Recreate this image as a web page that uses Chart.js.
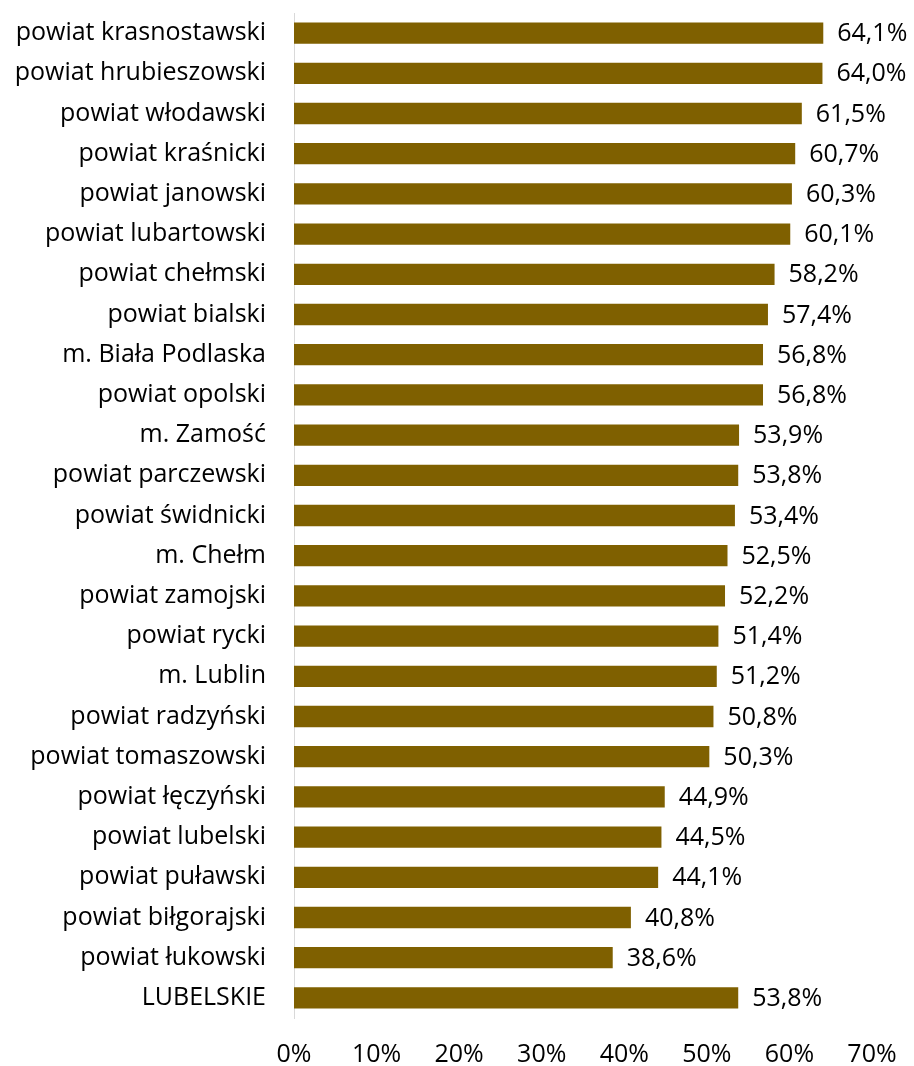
<!DOCTYPE html>
<html>
<head>
<meta charset="utf-8">
<script src="https://cdn.jsdelivr.net/npm/chart.js@4/dist/chart.umd.min.js"></script>
<style>
  html, body { margin: 0; padding: 0; background: #fff; }
  #wrap { width: 914px; height: 1066px; position: relative; }
</style>
</head>
<body>
<div id="wrap"><canvas id="chart"></canvas></div>
<script>
// Data
const categories = [
  'powiat krasnostawski', 'powiat hrubieszowski', 'powiat włodawski', 'powiat kraśnicki',
  'powiat janowski', 'powiat lubartowski', 'powiat chełmski', 'powiat bialski',
  'm. Biała Podlaska', 'powiat opolski', 'm. Zamość', 'powiat parczewski',
  'powiat świdnicki', 'm. Chełm', 'powiat zamojski', 'powiat rycki',
  'm. Lublin', 'powiat radzyński', 'powiat tomaszowski', 'powiat łęczyński',
  'powiat lubelski', 'powiat puławski', 'powiat biłgorajski', 'powiat łukowski',
  'LUBELSKIE'
];
const shares = [
  64.1, 64.0, 61.5, 60.7, 60.3, 60.1, 58.2, 57.4, 56.8, 56.8, 53.9, 53.8,
  53.4, 52.5, 52.2, 51.4, 51.2, 50.8, 50.3, 44.9, 44.5, 44.1, 40.8, 38.6, 53.8
];
const xTicks = [0, 10, 20, 30, 40, 50, 60, 70];

const FONT = '"Open Sans", Lato, sans-serif';
const FONT_SIZE = 25;
const BAR_COLOR = '#7F6000';

const fmtPct = (v) => v.toFixed(1).replace('.', ',') + '%';

// value labels just right of each bar end
const valueLabels = {
  id: 'valueLabels',
  afterDatasetsDraw(chart) {
    const { ctx } = chart;
    const meta = chart.getDatasetMeta(0);
    ctx.save();
    ctx.font = FONT_SIZE + 'px ' + FONT;
    ctx.fillStyle = '#000';
    ctx.textAlign = 'left';
    ctx.textBaseline = 'middle';
    meta.data.forEach((bar, i) => {
      ctx.fillText(fmtPct(shares[i]), bar.x + 14, bar.y + 1);
    });
    ctx.restore();
  },
};

// keep the plot box fixed: no overflow padding from tick labels
function noPad(scale) {
  scale.paddingTop = 0;
  scale.paddingBottom = 0;
  scale.paddingLeft = 0;
  scale.paddingRight = 0;
}

new Chart(document.getElementById('chart'), {
  type: 'bar',
  data: {
    labels: categories,
    datasets: [{
      data: shares,
      backgroundColor: BAR_COLOR,
      borderWidth: 0,
      barPercentage: 0.53,
      categoryPercentage: 1,
    }],
  },
  options: {
    indexAxis: 'y',
    responsive: true,
    maintainAspectRatio: false,
    animation: false,
    layout: { padding: { top: 13, right: 42, left: 0, bottom: 0 } },
    plugins: {
      legend: { display: false },
      tooltip: { enabled: false },
    },
    scales: {
      x: {
        min: 0,
        max: 70,
        afterBuildTicks(scale) {
          scale.ticks = xTicks.map((v) => ({ value: v }));
        },
        afterFit(scale) { scale.height = 48; noPad(scale); },
        grid: { display: false, drawTicks: false },
        border: { display: false },
        ticks: {
          padding: 22,
          maxRotation: 0,
          color: '#000',
          font: { family: FONT, size: FONT_SIZE },
          callback: (v) => v + '%',
        },
      },
      y: {
        afterFit(scale) { scale.width = 294; noPad(scale); },
        grid: { display: false, drawTicks: false },
        border: { display: true, color: '#D9D9D9', width: 1 },
        ticks: {
          padding: 28,
          autoSkip: false,
          color: '#000',
          font: { family: FONT, size: FONT_SIZE },
        },
      },
    },
  },
  plugins: [valueLabels],
});
</script>
</body>
</html>
